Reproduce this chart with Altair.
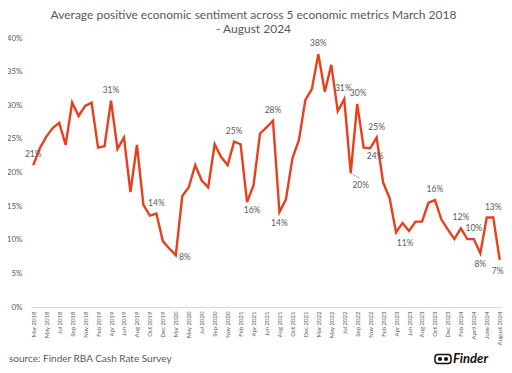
import altair as alt
import pandas as pd

months = [
    "Mar 2018", "Apr 2018", "May 2018", "Jun 2018", "Jul 2018", "Aug 2018", "Sep 2018", "Oct 2018", "Nov 2018", "Dec 2018",
    "Feb 2019", "Mar 2019", "Apr 2019", "May 2019", "Jun 2019", "Jul 2019", "Aug 2019", "Sep 2019", "Oct 2019", "Nov 2019", "Dec 2019",
    "Feb 2020", "Mar 2020", "Apr 2020", "May 2020", "Jun 2020", "Jul 2020", "Aug 2020", "Sep 2020", "Oct 2020", "Nov 2020", "Dec 2020",
    "Feb 2021", "Mar 2021", "Apr 2021", "May 2021", "Jun 2021", "Jul 2021", "Aug 2021", "Sep 2021", "Oct 2021", "Nov 2021", "Dec 2021",
    "Feb 2022", "Mar 2022", "Apr 2022", "May 2022", "Jun 2022", "Jul 2022", "Aug 2022", "Sep 2022", "Oct 2022", "Nov 2022", "Dec 2022",
    "Feb 2023", "Mar 2023", "Apr 2023", "May 2023", "Jun 2023", "Jul 2023", "Aug 2023", "Sep 2023", "Oct 2023", "Nov 2023", "Dec 2023",
    "Jan 2024", "Feb 2024", "Mar 2024", "April 2024", "May 2024", "June 2024", "July 2024", "August 2024",
]

sentiment = [
    21.1, 23.6, 25.3, 26.6, 27.4, 24.1, 30.4, 28.4, 29.9, 30.4,
    23.7, 23.9, 30.7, 23.5, 25.2, 17.1, 24.1, 15.2, 13.6, 13.9, 9.8,
    8.7, 7.7, 16.5, 17.8, 21.1, 18.8, 17.8, 24.2, 22.3, 21.1, 24.6,
    24.2, 15.6, 18.1, 25.8, 26.7, 27.7, 14.1, 16.0, 22.1, 24.8, 30.8,
    32.4, 37.6, 32.0, 36.0, 29.1, 30.9, 19.9, 30.2, 23.7, 23.6, 25.2,
    18.5, 16.2, 11.1, 12.5, 11.3, 12.7, 12.7, 15.5, 15.9, 13.0, 11.5,
    10.1, 11.7, 10.1, 10.1, 8.0, 13.3, 13.3, 7.0,
]

labels_above = ["Mar 2018", "Apr 2019", "Nov 2019", "Dec 2020", "Jul 2021", "Mar 2022",
                "Dec 2022", "Oct 2023", "Feb 2024", "April 2024", "July 2024"]
labels_above_left = ["Jul 2022"]
labels_above_right = ["Sep 2022"]
labels_below = ["Aug 2021", "May 2024"]
labels_below_edge = ["August 2024"]
labels_right = ["Mar 2020"]
labels_below_right = ["Mar 2021", "Nov 2022"]
labels_below_right_far = ["Apr 2023"]
labels_leader = ["Aug 2022"]

title_lines = ["Average positive economic sentiment across 5 economic metrics March 2018", "- August 2024"]
source_text = "source: Finder RBA Cash Rate Survey"
brand_text = "Finder"
y_ticks = [0, 5, 10, 15, 20, 25, 30, 35, 40]

df = pd.DataFrame({"month": months, "value": sentiment})

W, H = 471, 269
FONT = "Lato"
GRAY = "#595959"
RED = "#E8401C"

x_enc = alt.X(
    "month:N", sort=months, title=None,
    scale=alt.Scale(type="point", padding=0.35),
    axis=alt.Axis(values=months[::2], labelAngle=-90, labelFontSize=6, labelColor=GRAY,
                  labelFont=FONT, ticks=False, domainColor="#d9d9d9", labelPadding=4, grid=False),
)
y_enc = alt.Y(
    "value:Q", title=None,
    scale=alt.Scale(domain=[0, 40], nice=False),
    axis=alt.Axis(values=y_ticks, labelExpr="datum.value + '%'", domain=False, ticks=False,
                  grid=False, labelFontSize=8, labelColor=GRAY, labelFont=FONT, labelPadding=9),
)

base = alt.Chart(df).encode(x=x_enc, y=y_enc).transform_calculate(
    label="format(datum.value, '.0f') + '%'"
)

line = base.mark_line(color=RED, strokeWidth=2.4, strokeJoin="miter")


def lab(names, **kw):
    return base.transform_filter(
        alt.FieldOneOfPredicate(field="month", oneOf=names)
    ).mark_text(font=FONT, fontSize=8.5, color=GRAY, **kw).encode(text="label:N")


t_above = lab(labels_above, dy=-11)
t_above_l = lab(labels_above_left, dx=-1, dy=-11)
t_above_r = lab(labels_above_right, dx=1, dy=-11)
t_below = lab(labels_below, dy=11)
t_below_edge = lab(labels_below_edge, dx=-2, dy=11)
t_right = lab(labels_right, dx=9, dy=2)
t_br = lab(labels_below_right, dx=5, dy=8)
t_brf = lab(labels_below_right_far, dx=9, dy=11)
t_leader = lab(labels_leader, dx=10, dy=12)
leader = base.transform_filter(
    alt.FieldOneOfPredicate(field="month", oneOf=labels_leader)
).mark_rule(color="#a6a6a6", strokeWidth=0.8, x2Offset=9, y2Offset=5).encode(
    x2="month:N", y2="value:Q"
)

src = alt.Chart(pd.DataFrame({"t": [source_text]})).mark_text(
    align="left", baseline="middle", font=FONT, fontSize=10, color=GRAY
).encode(x=alt.value(-22), y=alt.value(321), text="t:N")

brand = alt.Chart(pd.DataFrame({"t": [brand_text]})).mark_text(
    align="left", baseline="middle", font=FONT, fontSize=13, fontWeight="bold",
    fontStyle="italic", color="#111111"
).encode(x=alt.value(422), y=alt.value(321), text="t:N")

icon = alt.Chart(pd.DataFrame({"t": [0]})).mark_rect(
    fill="white", stroke="#111111", strokeWidth=1.5, cornerRadius=3
).encode(x=alt.value(404), x2=alt.value(420), y=alt.value(316.5), y2=alt.value(325.5))

eyes = alt.Chart(pd.DataFrame({"e": [409, 415]})).mark_point(
    filled=True, color="#111111", size=18, opacity=1
).encode(x=alt.X("e:Q", scale=None), y=alt.value(321))

chart = alt.layer(
    line, leader, t_above, t_above_l, t_above_r, t_below, t_below_edge, t_right, t_br, t_brf,
    t_leader, src, icon, eyes, brand
).properties(
    width=W, height=H,
    title=alt.TitleParams(title_lines, anchor="middle", dx=-13, fontSize=12, font=FONT,
                          fontWeight="normal", color=GRAY, offset=-2, lineHeight=14),
    autosize="none",
    padding={"left": 23, "top": 30, "right": 2, "bottom": 58},
).configure_view(stroke=None)

chart.save("out.html", embed_options={"renderer": "svg", "actions": False})
